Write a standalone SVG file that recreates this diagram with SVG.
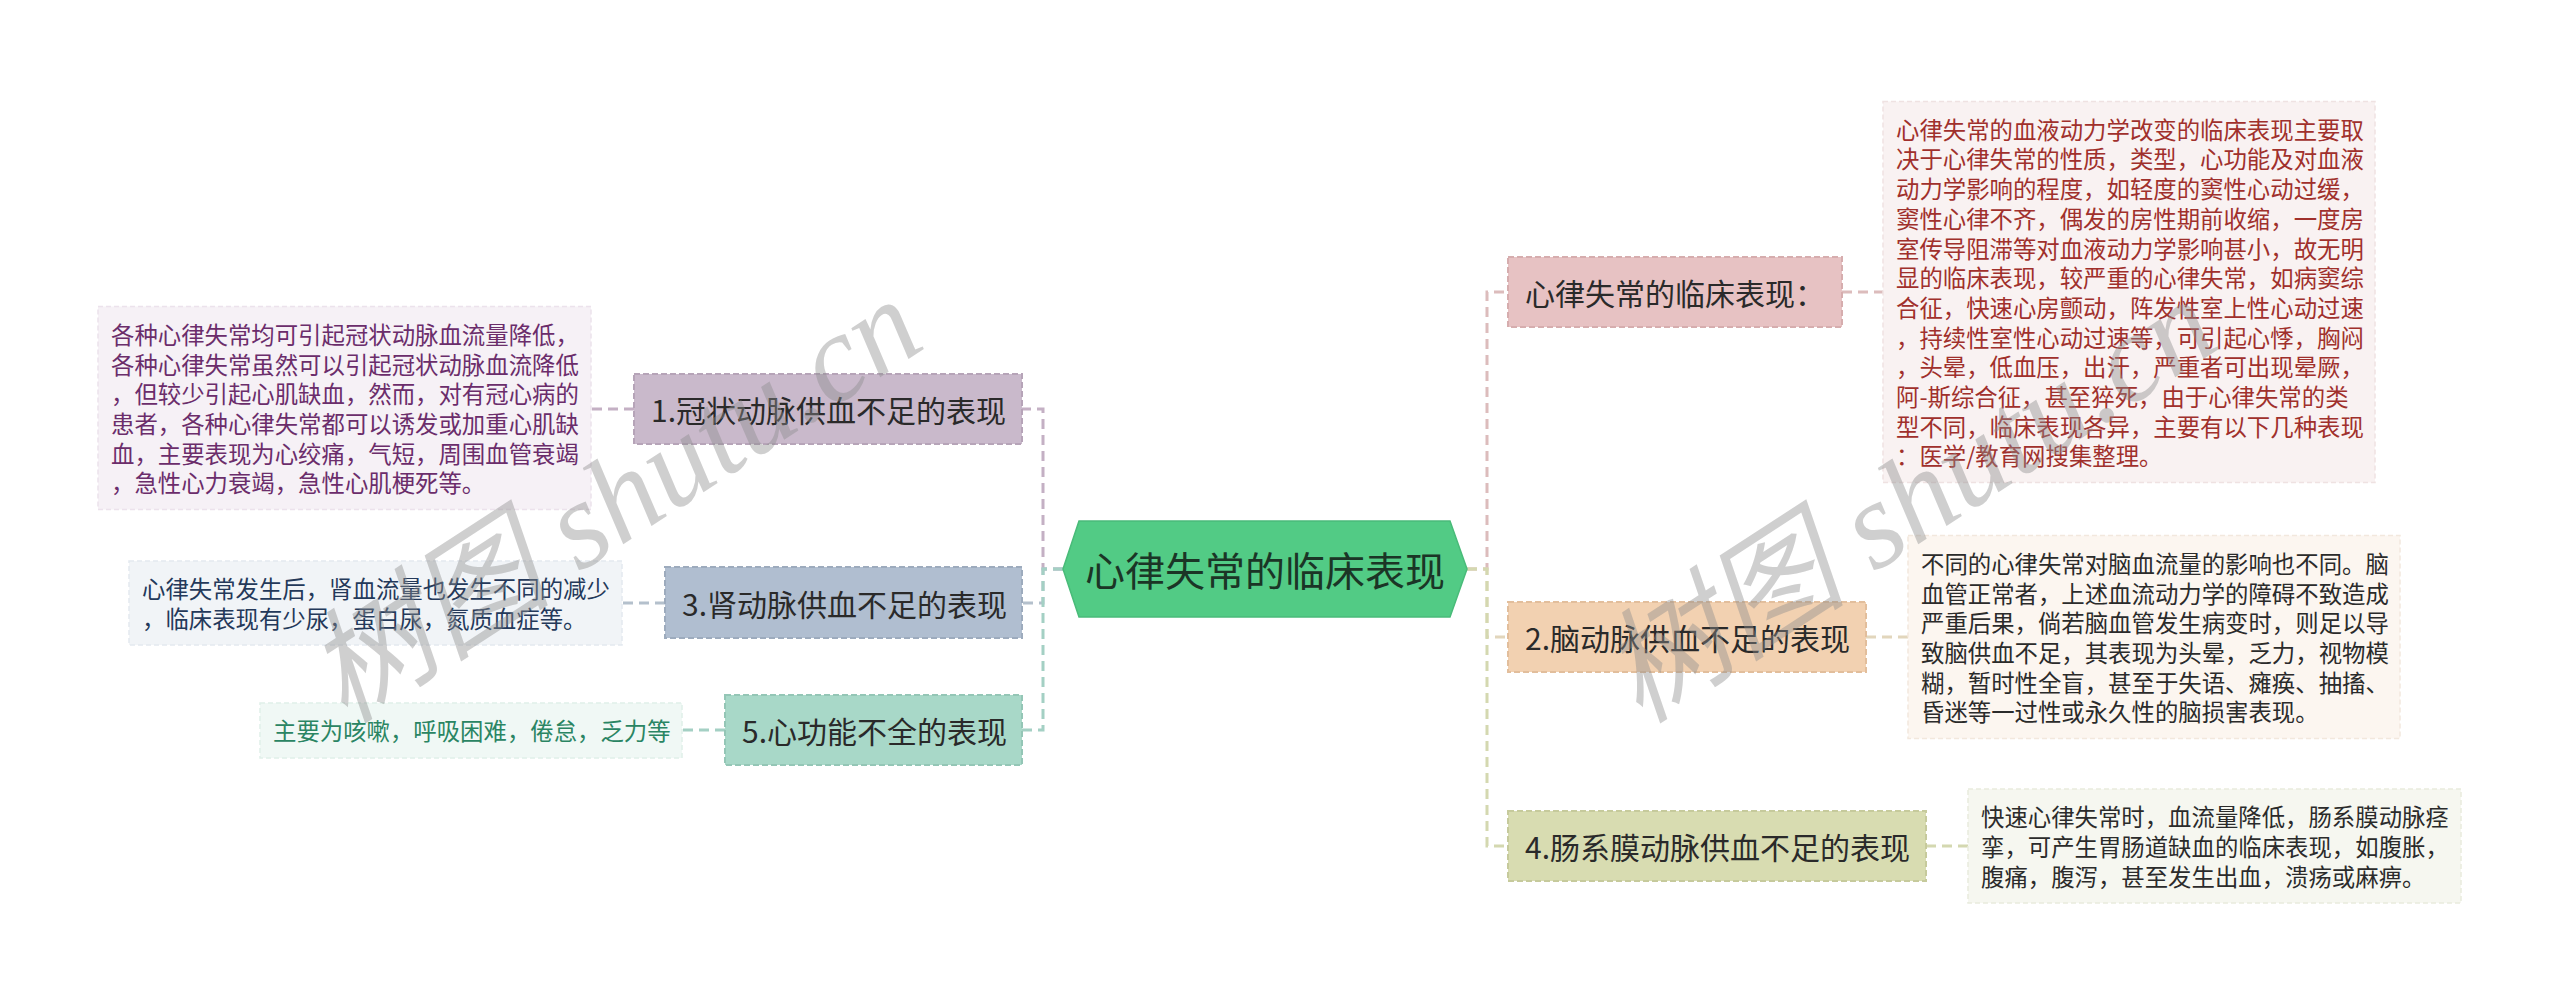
<svg xmlns="http://www.w3.org/2000/svg" width="2560" height="1003" viewBox="0 0 2560 1003">
<style>
text{font-family:"Noto Sans CJK SC","Noto Sans",sans-serif}
.nt{font-size:30px;fill:#2a2a2a;dominant-baseline:central}
.lt{font-size:23.4px;dominant-baseline:central}
.nb{stroke-width:2;stroke-dasharray:6 3}
.lb{stroke-width:1.5;stroke-dasharray:5 3}
.c{fill:none;stroke-width:3;stroke-dasharray:10 6}
.wm{font-family:"Liberation Serif","Noto Sans CJK SC",serif;font-style:italic;font-size:124px;fill:#8c8c8c;fill-opacity:0.42}
</style>
<rect width="2560" height="1003" fill="#ffffff"/>
<g id="connectors">
<path class="c" stroke="#c4b0c4" d="M1063,569 H1043 V409 H1022"/>
<path class="c" stroke="#c4b0c4" d="M634,409 H591"/>
<path class="c" stroke="#b4c0cc" d="M1063,569 H1043 V603 H1022"/>
<path class="c" stroke="#b4c0cc" d="M665,603 H622"/>
<path class="c" stroke="#a4d0c4" d="M1063,569 H1043 V730 H1022"/>
<path class="c" stroke="#a4d0c4" d="M725,730 H682"/>
<path class="c" stroke="#dcbcbc" d="M1467,569 H1487 V292 H1508"/>
<path class="c" stroke="#dcbcbc" d="M1842,292 H1883"/>
<path class="c" stroke="#e2d6bc" d="M1467,569 H1487 V637 H1508"/>
<path class="c" stroke="#e2d6bc" d="M1866,637 H1908"/>
<path class="c" stroke="#d4d8b0" d="M1467,569 H1487 V846 H1508"/>
<path class="c" stroke="#d4d8b0" d="M1926,846 H1968"/>
</g>
<g id="center">
<polygon points="1063,569 1079,521 1450,521 1467,569 1450,617 1079,617" fill="#52cb85" stroke="#49bb79" stroke-width="1.5"/>
<text x="1265" y="569" text-anchor="middle" style="font-size:40px;fill:#1b3526;dominant-baseline:central">心律失常的临床表现</text>
</g>
<g id="node0">
<rect class="nb" x="1508" y="257" width="334" height="70" fill="#e7c2c3" stroke="#d6adae"/>
<text class="nt" x="1525" y="292">心律失常的临床表现：</text>
</g>
<g id="leaf0">
<rect class="lb" x="1883" y="101.5" width="492" height="381" fill="#f9f2f2" stroke="#efe2e2"/>
<text class="lt" fill="#a0302c">
<tspan x="1896" y="128.7">心律失常的血液动力学改变的临床表现主要取</tspan>
<tspan x="1896" y="158.4">决于心律失常的性质，类型，心功能及对血液</tspan>
<tspan x="1896" y="188.1">动力学影响的程度，如轻度的窦性心动过缓，</tspan>
<tspan x="1896" y="217.8">窦性心律不齐，偶发的房性期前收缩，一度房</tspan>
<tspan x="1896" y="247.5">室传导阻滞等对血液动力学影响甚小，故无明</tspan>
<tspan x="1896" y="277.2">显的临床表现，较严重的心律失常，如病窦综</tspan>
<tspan x="1896" y="306.9">合征，快速心房颤动，阵发性室上性心动过速</tspan>
<tspan x="1896" y="336.6">，持续性室性心动过速等，可引起心悸，胸闷</tspan>
<tspan x="1896" y="366.3">，头晕，低血压，出汗，严重者可出现晕厥，</tspan>
<tspan x="1896" y="396.0">阿-斯综合征，甚至猝死，由于心律失常的类</tspan>
<tspan x="1896" y="425.7">型不同，临床表现各异，主要有以下几种表现</tspan>
<tspan x="1896" y="455.4">：医学/教育网搜集整理。</tspan>
</text>
</g>
<g id="node1">
<rect class="nb" x="634" y="374" width="388" height="70" fill="#c9b9cb" stroke="#b6a4b8"/>
<text class="nt" x="651" y="409">1.冠状动脉供血不足的表现</text>
</g>
<g id="leaf1">
<rect class="lb" x="98" y="306.5" width="493" height="203" fill="#f6f1f6" stroke="#ece2ec"/>
<text class="lt" fill="#6b2d6b">
<tspan x="111" y="333.8">各种心律失常均可引起冠状动脉血流量降低，</tspan>
<tspan x="111" y="363.5">各种心律失常虽然可以引起冠状动脉血流降低</tspan>
<tspan x="111" y="393.2">，但较少引起心肌缺血，然而，对有冠心病的</tspan>
<tspan x="111" y="422.9">患者，各种心律失常都可以诱发或加重心肌缺</tspan>
<tspan x="111" y="452.6">血，主要表现为心绞痛，气短，周围血管衰竭</tspan>
<tspan x="111" y="482.3">，急性心力衰竭，急性心肌梗死等。</tspan>
</text>
</g>
<g id="node3">
<rect class="nb" x="665" y="567" width="357" height="71" fill="#b0bed0" stroke="#9dabbd"/>
<text class="nt" x="682" y="603">3.肾动脉供血不足的表现</text>
</g>
<g id="leaf3">
<rect class="lb" x="129" y="561" width="493" height="84" fill="#f1f4f7" stroke="#e3e9ef"/>
<text class="lt" fill="#24395a">
<tspan x="142" y="588.2">心律失常发生后，肾血流量也发生不同的减少</tspan>
<tspan x="142" y="617.9">，临床表现有少尿，蛋白尿，氮质血症等。</tspan>
</text>
</g>
<g id="node5">
<rect class="nb" x="725" y="695" width="297" height="70" fill="#a8d8c8" stroke="#94c6b6"/>
<text class="nt" x="742" y="730">5.心功能不全的表现</text>
</g>
<g id="leaf5">
<rect class="lb" x="260" y="703" width="422" height="55" fill="#f0f8f5" stroke="#e0efe9"/>
<text class="lt" x="273" y="730" fill="#2a8563">主要为咳嗽，呼吸困难，倦怠，乏力等</text>
</g>
<g id="node2">
<rect class="nb" x="1508" y="602" width="358" height="70" fill="#f2d1b1" stroke="#e2be9c"/>
<text class="nt" x="1525" y="637">2.脑动脉供血不足的表现</text>
</g>
<g id="leaf2">
<rect class="lb" x="1908" y="535.5" width="492" height="203" fill="#fcf6f0" stroke="#f2e8dd"/>
<text class="lt" fill="#2b2b2b">
<tspan x="1921" y="562.8">不同的心律失常对脑血流量的影响也不同。脑</tspan>
<tspan x="1921" y="592.5">血管正常者，上述血流动力学的障碍不致造成</tspan>
<tspan x="1921" y="622.2">严重后果，倘若脑血管发生病变时，则足以导</tspan>
<tspan x="1921" y="651.9">致脑供血不足，其表现为头晕，乏力，视物模</tspan>
<tspan x="1921" y="681.6">糊，暂时性全盲，甚至于失语、瘫痪、抽搐、</tspan>
<tspan x="1921" y="711.3">昏迷等一过性或永久性的脑损害表现。</tspan>
</text>
</g>
<g id="node4">
<rect class="nb" x="1508" y="811" width="418" height="70" fill="#d8dcb1" stroke="#c6ca9c"/>
<text class="nt" x="1525" y="846">4.肠系膜动脉供血不足的表现</text>
</g>
<g id="leaf4">
<rect class="lb" x="1968" y="789" width="493" height="114" fill="#f6f7f0" stroke="#e9ebdd"/>
<text class="lt" fill="#2b2b2b">
<tspan x="1981" y="816.3">快速心律失常时，血流量降低，肠系膜动脉痉</tspan>
<tspan x="1981" y="846">挛，可产生胃肠道缺血的临床表现，如腹胀，</tspan>
<tspan x="1981" y="875.7">腹痛，腹泻，甚至发生出血，溃疡或麻痹。</tspan>
</text>
</g>
<g id="watermark">
<text class="wm" transform="translate(345,725) rotate(-33)">树图 shutu.cn</text>
<text class="wm" transform="translate(1640,725) rotate(-33)">树图 shutu.cn</text>
</g>
</svg>
